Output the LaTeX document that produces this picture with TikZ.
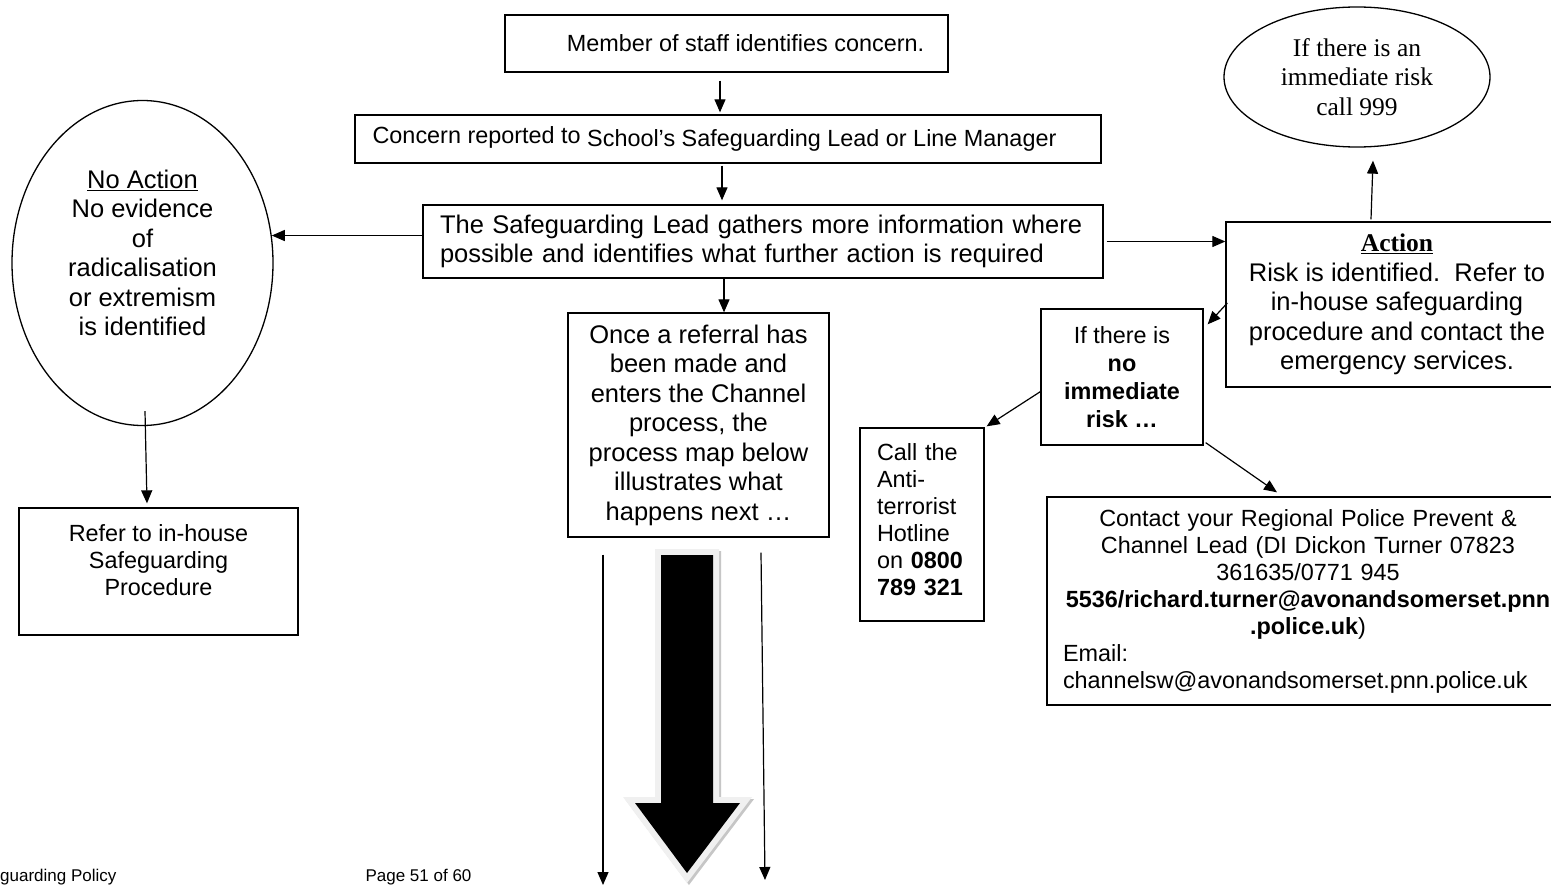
\documentclass[tikz,border=0pt]{standalone}
\usepackage{fontspec}
\setmainfont{Liberation Sans}
\newfontfamily\serifx{Liberation Serif}
\usetikzlibrary{arrows.meta,shapes.geometric,calc}
\newcommand\fsb{\fontsize{25.5}{29.5}\selectfont}
\newcommand\fss{\fontsize{23.4}{27}\selectfont}
\tikzset{
  box/.style={draw=black, line width=1.3pt, rectangle, inner sep=0pt, font=\fsb, align=center},
  oval/.style={draw=black, line width=1.3pt, ellipse, inner sep=0pt, align=center},
  arr/.style={-{Triangle[length=13pt,width=11pt]}, line width=1.2pt},
  foot/.style={inner sep=0pt, font=\fontsize{17}{20}\selectfont},
}
\begin{document}
\begin{tikzpicture}[x=1pt,y=-1pt]
\useasboundingbox (0,0) rectangle (1551,888);
\fill[white] (0,0) rectangle (1551,888);
\clip (0,0) rectangle (1551,888);

% central column
\node[box, minimum width=443pt, minimum height=57pt, font=\fss] (b1) at (726.5,43.5)
  {\hspace*{38pt}Member of staff identifies concern.};
\node[box, minimum width=746pt, minimum height=48pt, font=\fss] (b2) at (728,139)
  {Concern reported to \raisebox{-3pt}{School’s Safeguarding Lead or Line Manager}\hspace*{27pt}};
\node[box, minimum width=680pt, minimum height=73pt, align=left, text width=646pt] (b3) at (763,241.5)
  {The Safeguarding Lead gathers more information where\\possible and identifies what further action is required};
\node[box, minimum width=261pt, minimum height=224pt] (once) at (698.5,425)
  {Once a referral has\\been made and\\enters the Channel\\process, the\\process map below\\illustrates what\\happens next …};

% left side
\node[oval, minimum width=261pt, minimum height=325pt, font=\fsb] (ellL) at (142.5,263)
  {\underline{No Action}\\No evidence\\of\\radicalisation\\or extremism\\is identified\\[-9pt]\mbox{}};
\node[box, minimum width=279pt, minimum height=127pt, font=\fss] (refer) at (158.5,571.5)
  {Refer to in-house\\Safeguarding\\Procedure\\[-5pt]\mbox{}};

% right side
\node[oval, minimum width=266pt, minimum height=140pt, font={\serifx\fontsize{25.5}{29.5}\selectfont}] (ellR) at (1357,77)
  {If there is an\\immediate risk\\call 999};
\node[box, minimum width=342pt, minimum height=165pt] (act) at (1397,304.5)
  {{\serifx\bfseries\underline{Action}}\\Risk is identified.\ \ Refer to\\in-house safeguarding\\procedure and contact the\\emergency services.};
\node[box, minimum width=162pt, minimum height=136pt, font={\fontsize{23.4}{28}\selectfont}] (ifno) at (1122,377)
  {If there is\\\textbf{no}\\\textbf{immediate}\\\textbf{risk …}};
\node[box, minimum width=124pt, minimum height=193pt, font=\fss, align=left, text width=90pt] (call) at (922,524.5)
  {Call the\\Anti-\\terrorist\\Hotline\\on \textbf{0800}\\\textbf{789 321}\\[-17pt]\mbox{}};
\node[box, minimum width=522pt, minimum height=208pt, font=\fss, text width=490pt] (contact) at (1308,601)
  {\centering Contact your Regional Police Prevent \&\\Channel Lead (DI Dickon Turner 07823\\361635/0771 945\\\textbf{5536/richard.turner@avonandsomerset.pnn}\\\textbf{.police.uk})\par
   \raggedright Email:\\channelsw@avonandsomerset.pnn.police.uk\par};

% footer
\node[foot, anchor=west] (foot1) at (0,877) {guarding Policy};
\node[foot] (foot2) at (418.5,877) {Page 51 of 60};

% free ends of the long arrows
\coordinate (downL) at (603,885);
\coordinate (downR) at (765,880);

% connectors
\draw[arr] ($(b1.south)+(-6.5,8)$) -- ($(b1.south|-b2.north)+(-6.5,-2)$);
\draw[arr] ($(b2.south)+(-6,2)$) -- ($(b2.south|-b3.north)+(-6,-4)$);
\draw[arr] ($(b3.south)+(-39,0)$) -- ($(b3.south|-once.north)+(-39,0)$);
\draw[arr] (b3.west|-ellL.12) -- (ellL.12);
\draw[arr] ($(ellL.south)+(2.5,-15)$) -- ($(refer.north)+(-11.5,-4)$);
\draw[arr] ($(b3.east)+(3,0)$) -- (b3.east-|act.west);
\draw[arr] ($(act.north)+(-26,-2)$) -- ($(ellR.south)+(16,13)$);
\draw[arr] ($(act.west)+(2,-1.5)$) -- ($(ifno.north east)+(4,16)$);
\draw[arr] ($(ifno.west)+(1,14)$) -- ($(call.north east)+(2,-1)$);
\draw[arr] ($(ifno.south east)+(2,-3)$) -- ($(contact.north)+(-31,-4)$);
\draw[arr] ($(once.south)+(-95.5,17)$) -- (downL);
\draw[arr] ($(once.south)+(62.5,15)$) -- (downR);

% big block arrow
\draw[line width=12pt, draw=gray!45, line join=miter, shift={(2,2)}]
  (661,555) -- (713,555) -- (713,803) -- (740,803) -- (687,873) -- (635,803) -- (661,803) -- cycle;
\draw[line width=12pt, draw=gray!12, line join=miter]
  (661,555) -- (713,555) -- (713,803) -- (740,803) -- (687,873) -- (635,803) -- (661,803) -- cycle;
\fill[black]
  (661,555) -- (713,555) -- (713,803) -- (740,803) -- (687,873) -- (635,803) -- (661,803) -- cycle;
\end{tikzpicture}
\end{document}
